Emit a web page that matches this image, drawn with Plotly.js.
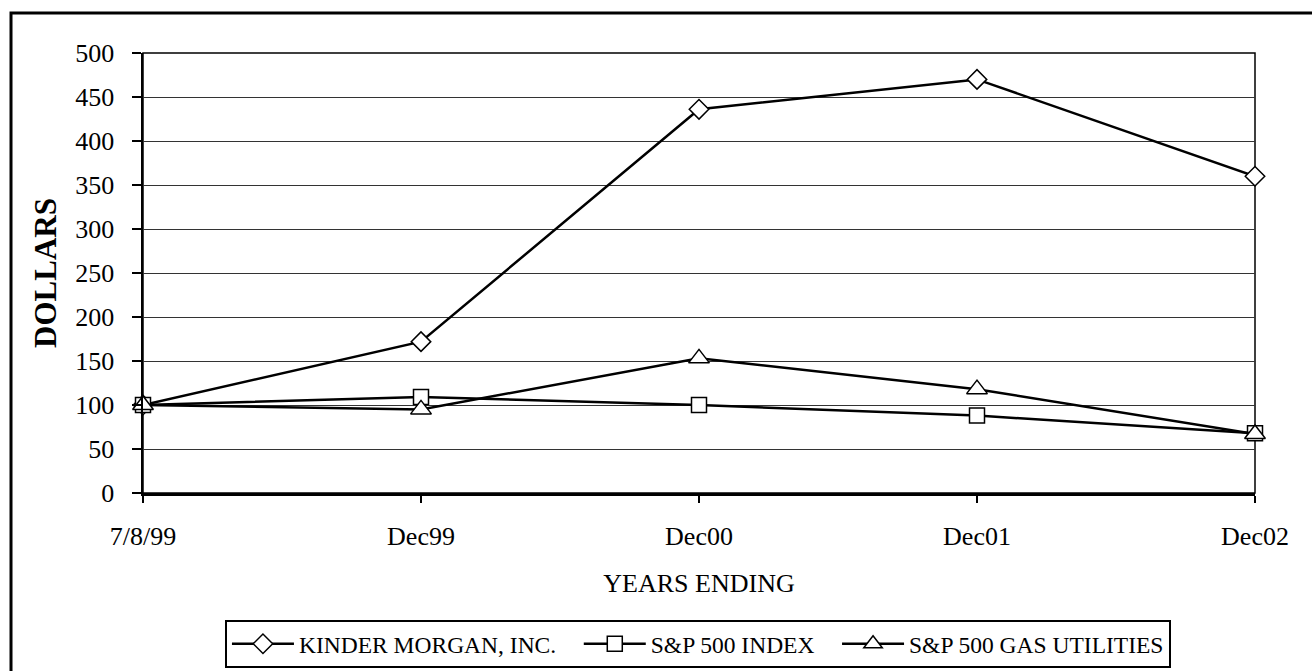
<!DOCTYPE html>
<html><head><meta charset="utf-8">
<script src="https://cdn.plot.ly/plotly-3.0.1.min.js"></script>
<style>html,body{margin:0;padding:0;background:#fff}#chart{width:1312px;height:671px}</style>
</head><body><div id="chart"></div>
<script>
const categories = ["7/8/99","Dec99","Dec00","Dec01","Dec02"];
const seriesNames = ["KINDER MORGAN, INC.", "S&P 500 INDEX", "S&P 500 GAS UTILITIES"];
const kinderMorgan = [100, 172, 436, 470, 360];
const sp500Index = [100, 109, 100, 88, 68];
const sp500GasUtilities = [100, 95, 153, 118, 67];
const yTicks = [0,50,100,150,200,250,300,350,400,450,500];

const font = "'Liberation Serif', 'Times New Roman', serif";
const pad = n => "\u00a0".repeat(n);
function series(name, y, symbol, size){
  return {type:"scatter", mode:"lines+markers", name:name, x:categories, y:y,
    line:{color:"#000", width:2.5},
    marker:{symbol:symbol, size:size, color:"#fff", line:{color:"#000", width:1.5}},
    cliponaxis:false};
}
const data = [
  series(seriesNames[0] + pad(3), kinderMorgan, "diamond", 15),
  series(seriesNames[1] + pad(3), sp500Index, "square", 15),
  series(seriesNames[2], sp500GasUtilities, "triangle-up", 18)
];
const layout = {
  width:1312, height:671,
  margin:{l:143, r:57, t:53, b:178, autoexpand:false},
  paper_bgcolor:"#fff", plot_bgcolor:"#fff",
  font:{family:font, color:"#000", size:26},
  showlegend:true,
  legend:{orientation:"h", x:0.0737, xanchor:"left", y:-0.2886, yanchor:"top",
    bordercolor:"#000", borderwidth:2, font:{size:23.5, family:font},
    itemwidth:62, tracegroupgap:0},
  xaxis:{type:"category", range:[0,4], showgrid:false, zeroline:false,
    showline:true, linecolor:"#000", linewidth:2.5,
    ticks:"outside", ticklen:7, tickwidth:1.5, tickcolor:"#000",
    ticklabelstandoff:11, tickfont:{size:26, family:font},
    title:{text:"YEARS ENDING", font:{size:26, family:font}, standoff:24}},
  yaxis:{range:[0,500], tickvals:yTicks, showgrid:true, gridcolor:"#333", gridwidth:1,
    zeroline:false, showline:true, linecolor:"#000", linewidth:2.5,
    ticks:"outside", ticklen:9, tickwidth:1.5, tickcolor:"#000",
    ticklabelstandoff:12, tickfont:{size:26, family:font},
    title:{text:"<b>DOLLARS</b>", font:{size:31, family:font}, standoff:10}},
  shapes:[
    {type:"rect", xref:"paper", yref:"paper", x0:0, x1:1, y0:0, y1:1,
      line:{color:"#000", width:1.5}, layer:"below"},
    {type:"rect", xref:"paper", yref:"paper", x0:-0.1187, x1:1.08, y0:-0.6, y1:1.0909,
      line:{color:"#000", width:3}}
  ]
};
Plotly.newPlot("chart", data, layout, {staticPlot:true});
</script></body></html>
